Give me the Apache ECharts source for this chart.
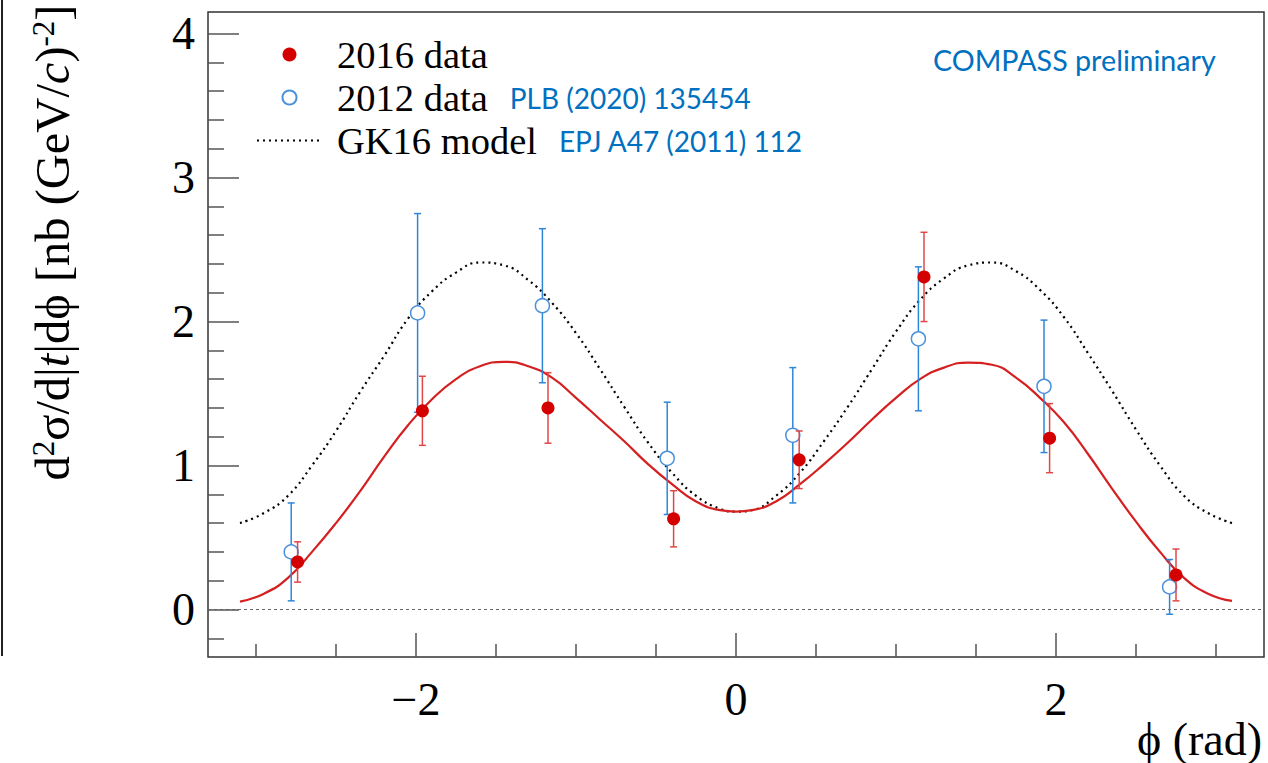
<!DOCTYPE html>
<html><head><meta charset="utf-8">
<script src="https://cdn.jsdelivr.net/npm/echarts@6/dist/echarts.min.js"></script>
<style>html,body{margin:0;padding:0;background:#fff}#c{width:1268px;height:763px}</style>
</head><body><div id="c"></div>
<script>
// ---- data ----
const phi2016 = [-2.74, -1.96, -1.175, -0.39, 0.395, 1.175, 1.96, 2.75];
const val2016 = [0.33, 1.38, 1.40, 0.63, 1.04, 2.31, 1.19, 0.24];
const err2016 = [0.14, 0.24, 0.245, 0.195, 0.20, 0.31, 0.24, 0.18];

const phi2012 = [-2.78, -1.99, -1.21, -0.43, 0.355, 1.14, 1.925, 2.71];
const val2012 = [0.40, 2.06, 2.11, 1.05, 1.21, 1.88, 1.55, 0.157];
const err2012 = [0.34, 0.69, 0.535, 0.39, 0.47, 0.50, 0.46, 0.19];

const curvePhi = [-3.1,-2.95,-2.8,-2.65,-2.5,-2.35,-2.2,-2.05,-1.9,-1.75,-1.6,-1.45,-1.3,-1.15,-1.0,-0.85,-0.7,-0.55,-0.4,-0.25,-0.1,0,
                  0.1,0.25,0.4,0.55,0.7,0.85,1.0,1.15,1.3,1.45,1.6,1.75,1.9,2.05,2.2,2.35,2.5,2.65,2.8,2.95,3.1];
const fitVals = [0.055,0.11,0.22,0.40,0.60,0.82,1.06,1.28,1.46,1.60,1.69,1.72,1.69,1.61,1.47,1.32,1.17,1.01,0.87,0.75,0.69,0.68,
                 0.69,0.75,0.87,1.01,1.16,1.32,1.47,1.60,1.68,1.715,1.70,1.61,1.47,1.30,1.08,0.84,0.61,0.40,0.22,0.11,0.06];
const gkVals = [0.60,0.67,0.79,1.00,1.24,1.51,1.76,2.02,2.21,2.34,2.41,2.39,2.29,2.13,1.92,1.67,1.41,1.16,0.95,0.79,0.70,0.68,
                0.69,0.79,0.95,1.17,1.41,1.67,1.93,2.15,2.30,2.39,2.41,2.35,2.22,2.03,1.78,1.52,1.25,1.00,0.79,0.67,0.60];

const xMajorTicks = [-2, 0, 2];
const xMinorTicks = [-3, -2.5, -1.5, -1, -0.5, 0.5, 1, 1.5, 2.5, 3];
const yMajorTicks = [0, 1, 2, 3, 4];
const yMinorTicks = [-0.2, 0.2, 0.4, 0.6, 0.8, 1.2, 1.4, 1.6, 1.8, 2.2, 2.4, 2.6, 2.8, 3.2, 3.4, 3.6, 3.8];
const legendNames = ['2016 data', '2012 data', 'GK16 model'];
const legendRefs = {'2012 data': 'PLB (2020) 135454', 'GK16 model': 'EPJ A47 (2011) 112'};

// ---- layout / style ----
const X_MIN = -3.3, X_MAX = 3.3, Y_MIN = -0.33, Y_MAX = 4.15;
const SERIF = 'Liberation Serif';
const BLUE_TXT = '#0070C0';
const RED = '#d40000';
const BLUE = '#2f86d8';

function errBar(color, cap) {
  return function (params, api) {
    const x = api.value(0), lo = api.value(1), hi = api.value(2);
    const p1 = api.coord([x, hi]), p2 = api.coord([x, lo]);
    const s = {stroke: color, lineWidth: 1.5};
    return {type: 'group', children: [
      {type: 'line', shape: {x1: p1[0], y1: p1[1], x2: p2[0], y2: p2[1]}, style: s},
      {type: 'line', shape: {x1: p1[0] - cap, y1: p1[1], x2: p1[0] + cap, y2: p1[1]}, style: s},
      {type: 'line', shape: {x1: p2[0] - cap, y1: p2[1], x2: p2[0] + cap, y2: p2[1]}, style: s}
    ]};
  };
}

const chart = echarts.init(document.getElementById('c'), null, {renderer: 'svg'});
const tickStyle = {color: '#555', width: 1.5};
const noLine = {show: false, onZero: false};

chart.setOption({
  animation: false,
  backgroundColor: '#fff',
  grid: {left: 208, top: 12, width: 1056, height: 645, show: true, borderColor: '#333', borderWidth: 1.5,
         containLabel: false, outerBoundsMode: 'none'},
  title: [{
    text: 'COMPASS preliminary', left: 933, top: 45, padding: 0,
    textStyle: {fontFamily: 'Lato', fontSize: 28.7, fontWeight: 'normal', color: BLUE_TXT}
  }, {
    text: 'ϕ (rad)', right: 6, top: 716, padding: 0,
    textStyle: {fontFamily: SERIF, fontSize: 46, fontWeight: 'normal', color: '#000'}
  }],
  legend: {
    orient: 'vertical', left: 251, top: 28, itemWidth: 65, itemHeight: 14, itemGap: 0,
    selectedMode: false,
    data: [legendNames[0], legendNames[1], {name: legendNames[2], itemStyle: {opacity: 0}}],
    formatter: function (n) { return legendRefs[n] ? n + '{ref|' + legendRefs[n] + '}' : n; },
    textStyle: {
      fontFamily: SERIF, fontSize: 38.5, color: '#000', lineHeight: 43, padding: [0, 0, 0, 10],
      rich: {ref: {fontFamily: 'Lato', fontSize: 28, color: BLUE_TXT, padding: [0, 0, 0, 22]}}
    }
  },
  xAxis: [{
    type: 'value', min: X_MIN, max: X_MAX, position: 'bottom',
    axisLine: noLine, splitLine: {show: false},
    axisTick: {inside: true, length: 24, customValues: xMajorTicks, lineStyle: tickStyle},
    axisLabel: {customValues: xMajorTicks, margin: 19, fontFamily: SERIF, fontSize: 46, color: '#000',
      formatter: function (v) { return String(v).replace('-', '\u2212'); }}
  }, {
    type: 'value', min: X_MIN, max: X_MAX, position: 'bottom',
    axisLine: noLine, splitLine: {show: false},
    axisTick: {inside: true, length: 13, customValues: xMinorTicks, lineStyle: tickStyle},
    axisLabel: {show: false}
  }],
  yAxis: [{
    type: 'value', min: Y_MIN, max: Y_MAX, position: 'left',
    axisLine: noLine, splitLine: {show: false},
    axisTick: {inside: true, length: 31, customValues: yMajorTicks, lineStyle: tickStyle},
    axisLabel: {customValues: yMajorTicks, margin: 13, fontFamily: SERIF, fontSize: 46, color: '#000'},
    name: 'd{sup|2}σ/d|{it|t}|dϕ [nb (GeV/{it|c}){sup|-2}]',
    nameLocation: 'middle', nameRotate: 90, nameGap: 131,
    nameTextStyle: {fontFamily: SERIF, fontSize: 48.5, color: '#000', padding: [0, 0, 0, 184],
      rich: {sup: {fontFamily: SERIF, fontSize: 31, color: '#000', verticalAlign: 'top'},
             it: {fontFamily: SERIF, fontSize: 48.5, color: '#000', fontStyle: 'italic'}}}
  }, {
    type: 'value', min: Y_MIN, max: Y_MAX, position: 'left',
    axisLine: noLine, splitLine: {show: false},
    axisTick: {inside: true, length: 16, customValues: yMinorTicks, lineStyle: tickStyle},
    axisLabel: {show: false}
  }],
  graphic: [{type: 'line', shape: {x1: 2, y1: 0, x2: 2, y2: 656}, style: {stroke: '#222', lineWidth: 2}}],
  series: [
    {name: 'zero', type: 'line', xAxisIndex: 0, yAxisIndex: 0, data: [[X_MIN, 0], [X_MAX, 0]], symbol: 'none', silent: true,
     lineStyle: {color: '#666', width: 1, type: [3, 3]}, z: 1},
    {name: 'GK16 model', type: 'line', xAxisIndex: 0, yAxisIndex: 0, smooth: true, symbol: 'none',
     data: curvePhi.map((p, i) => [p, gkVals[i]]),
     lineStyle: {color: '#000', width: 2.2, type: [2, 4]}, itemStyle: {color: 'rgba(0,0,0,0)'}, z: 2},
    {name: 'fit', type: 'line', xAxisIndex: 0, yAxisIndex: 0, smooth: true, symbol: 'none',
     data: curvePhi.map((p, i) => [p, fitVals[i]]),
     lineStyle: {color: '#d42020', width: 2.2}, z: 3},
    {name: '2012 err', type: 'custom', xAxisIndex: 0, yAxisIndex: 0, renderItem: errBar(BLUE, 3.5),
     encode: {x: 0, y: [1, 2]}, data: phi2012.map((p, i) => [p, val2012[i] - err2012[i], val2012[i] + err2012[i]]), z: 4},
    {name: '2012 data', type: 'scatter', xAxisIndex: 0, yAxisIndex: 0, symbol: 'circle', symbolSize: 14,
     data: phi2012.map((p, i) => [p, val2012[i]]),
     itemStyle: {color: '#fff', borderColor: '#4a90dc', borderWidth: 1.5, opacity: 1}, z: 5},
    {name: '2016 err', type: 'custom', xAxisIndex: 0, yAxisIndex: 0, renderItem: errBar('#e04848', 3.5),
     encode: {x: 0, y: [1, 2]}, data: phi2016.map((p, i) => [p, val2016[i] - err2016[i], val2016[i] + err2016[i]]), z: 6},
    {name: '2016 data', type: 'scatter', xAxisIndex: 0, yAxisIndex: 0, symbol: 'circle', symbolSize: 13,
     data: phi2016.map((p, i) => [p, val2016[i]]),
     itemStyle: {color: RED, opacity: 1}, z: 7}
  ]
});
</script></body></html>
